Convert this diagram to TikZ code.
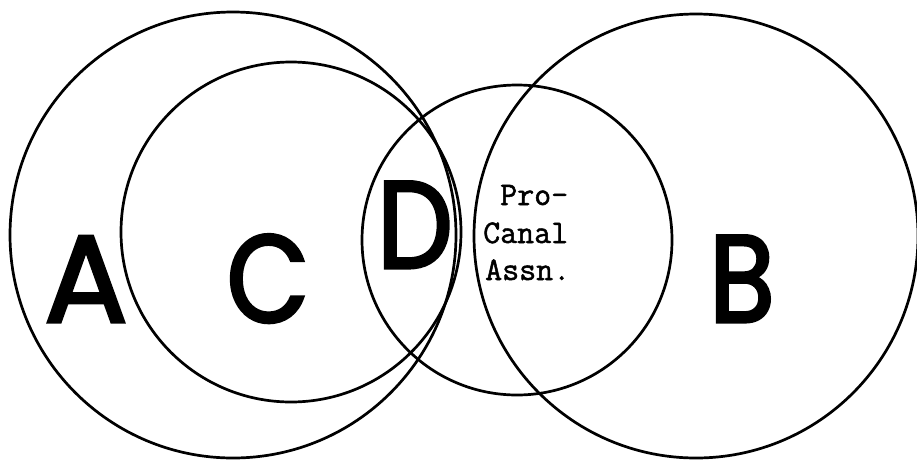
\documentclass[tikz,border=0pt]{standalone}
\usepackage{fontspec}
\setmainfont{Poppins}
\setmonofont{Latin Modern Mono}[FakeBold=1.5]
\newfontfamily\lettersans{Poppins}[FakeBold=2.5]
\newfontfamily\lettersanscond{Poppins}[FakeBold=2.5, FakeStretch=0.86]
\usetikzlibrary{positioning}

\begin{document}
\begin{tikzpicture}[
  x=1pt, y=-1pt,
  ring/.style={circle, draw, inner sep=0pt, line width=2.7pt,
    minimum size=#1},
  bigletter/.style={anchor=base, inner sep=0pt,
    font=\lettersanscond\fontsize{124}{124}\selectfont},
  memo/.style={anchor=base west, inner sep=0pt,
    font=\ttfamily\fontsize{33}{37}\selectfont}
]
  \useasboundingbox (0,0) rectangle (917,461);

  % Circles
  \node[ring=446pt] (ringA) at (233,235) {};
  \node[ring=340pt] (ringC) at (291,232) {};
  \node[ring=310pt] (ringP) at (517,240) {};
  \node[ring=444pt] (ringB) at (696,236) {};

  % Letters
  \node[bigletter, font=\lettersans\fontsize{124}{124}\selectfont]
    (labA) at (86,322) {A};
  \node[bigletter] (labC) at (268,322) {C};
  \node[bigletter] (labD) at (415,268) {D};
  \node[bigletter] (labB) at (742,322) {B};

  % Association text
  \node[memo] (pro) at (500,205) {Pro-};
  \node[memo] (canal) at (483,243) {Canal};
  \node[memo] (assn) at (485,280) {Assn.};
\end{tikzpicture}
\end{document}
